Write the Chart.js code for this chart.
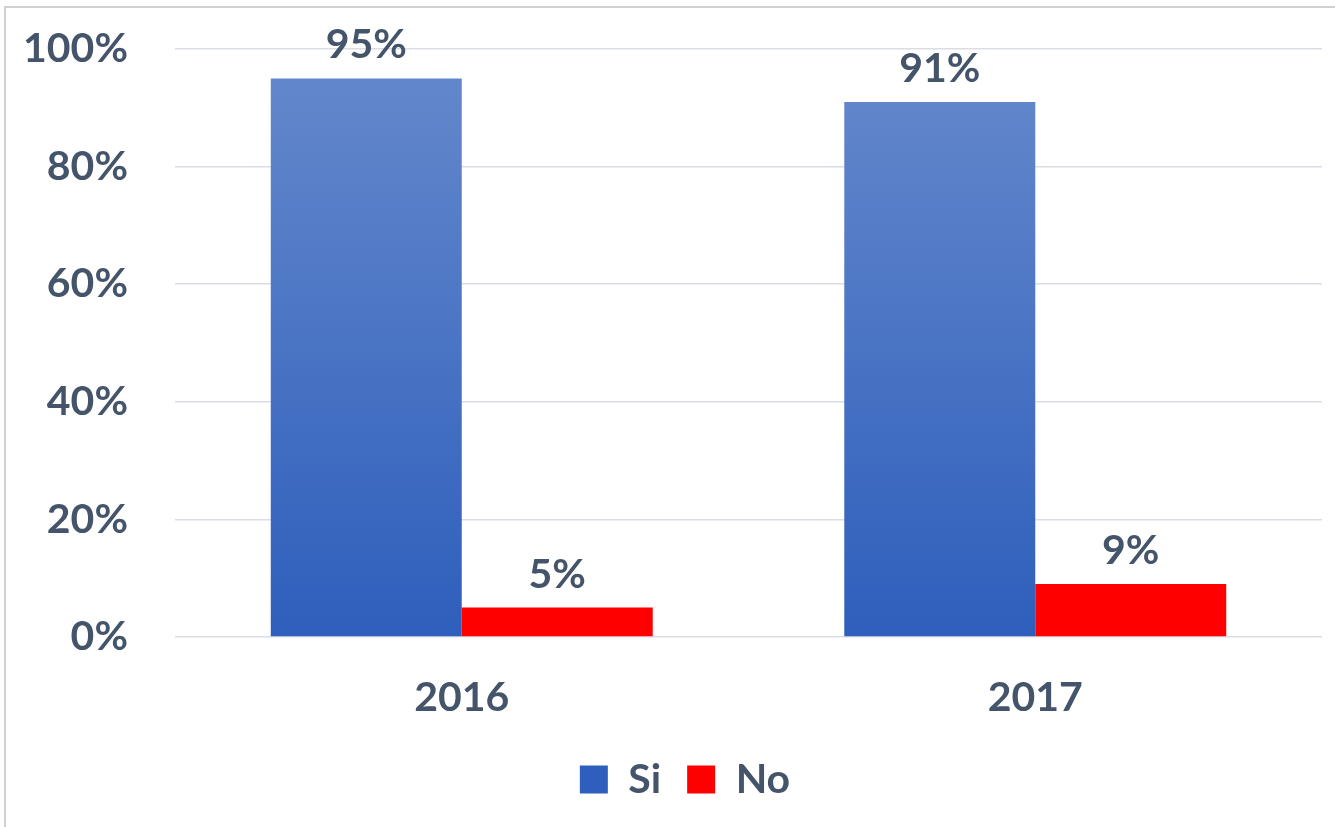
<!DOCTYPE html>
<html>
<head>
<meta charset="utf-8">
<script src="https://cdn.jsdelivr.net/npm/chart.js@4/dist/chart.umd.min.js"></script>
<style>
  html, body { margin: 0; padding: 0; background: #ffffff; overflow: hidden; }
  #frame { position: absolute; left: 4px; top: 6px; width: 1400px; height: 900px; border: 2px solid #d0d0d0; box-sizing: border-box; }
  #wrap { position: absolute; left: 0; top: 0; width: 1335px; height: 827px; }
</style>
</head>
<body>
<div id="frame"></div>
<div id="wrap"><canvas id="c" width="1335" height="827"></canvas></div>
<script>
const categories = ["2016", "2017"];
const seriesNames = ["Si", "No"];
const siValues = [95, 91];
const noValues = [5, 9];
const yTicks = [0, 20, 40, 60, 80, 100];

const textColor = "#44546a";
const fontFamily = "Lato, 'Open Sans', sans-serif";
const fontSize = 41;

function blueGradient(ctx, top, bottom) {
  const g = ctx.createLinearGradient(0, top, 0, bottom);
  g.addColorStop(0, "#6689cc");
  g.addColorStop(1, "#2e5fbc");
  return g;
}

const valueLabels = {
  id: "valueLabels",
  afterDatasetsDraw(chart) {
    const ctx = chart.ctx;
    ctx.save();
    ctx.fillStyle = textColor;
    ctx.font = "bold " + fontSize + "px " + fontFamily;
    ctx.textAlign = "center";
    ctx.textBaseline = "alphabetic";
    chart.data.datasets.forEach((ds, di) => {
      const meta = chart.getDatasetMeta(di);
      meta.data.forEach((bar, i) => {
        ctx.fillText(ds.data[i] + "%", bar.x, bar.y - 20);
      });
    });
    ctx.restore();
  }
};

const legendTweak = {
  id: "legendTweak",
  afterLayout(chart) {
    const lg = chart.legend;
    if (!lg || !lg.legendItems || !lg.legendItems.length) return;
    lg.left = 48;
    lg.width = lg.right - lg.left;
    const mid = (lg.top + lg.bottom) / 2;
    lg.legendItems[0].fillStyle = blueGradient(chart.ctx, mid - 14, mid + 14);
  }
};

const chart = new Chart(document.getElementById("c"), {
  type: "bar",
  data: {
    labels: categories,
    datasets: [
      {
        label: seriesNames[0],
        data: siValues,
        backgroundColor: (context) => {
          const ca = context.chart.chartArea;
          if (!ca) return "#4a74c8";
          return blueGradient(context.chart.ctx, ca.top, ca.bottom);
        },
        borderWidth: 0
      },
      {
        label: seriesNames[1],
        data: noValues,
        backgroundColor: "#ff0000",
        borderWidth: 0
      }
    ]
  },
  options: {
    responsive: false,
    animation: false,
    devicePixelRatio: 1,
    layout: { padding: { left: 0, right: 13, top: 49, bottom: 17 } },
    datasets: { bar: { categoryPercentage: 0.666, barPercentage: 1.0 } },
    scales: {
      x: {
        grid: { display: false, drawTicks: false },
        border: { display: false },
        ticks: {
          color: textColor,
          padding: 36,
          font: { family: fontFamily, size: fontSize, weight: "bold" }
        },
        afterFit(scale) { scale.height = 96; scale.paddingLeft = 0; scale.paddingRight = 0; }
      },
      y: {
        min: 0,
        max: 100,
        afterBuildTicks(scale) { scale.ticks = yTicks.map(v => ({ value: v })); },
        grid: { color: "#d9dee6", lineWidth: 1.5, drawTicks: false },
        border: { display: false },
        ticks: {
          color: textColor,
          padding: 47,
          font: { family: fontFamily, size: fontSize, weight: "bold" },
          callback: (v) => v + "%"
        },
        afterFit(scale) { scale.width = 175; scale.paddingTop = 0; scale.paddingBottom = 0; }
      }
    },
    plugins: {
      tooltip: { enabled: false },
      legend: {
        position: "bottom",
        labels: {
          color: textColor,
          boxWidth: 28,
          boxHeight: 28,
          padding: 26,
          font: { family: fontFamily, size: fontSize, weight: "bold" }
        }
      }
    }
  },
  plugins: [valueLabels, legendTweak]
});
</script>
</body>
</html>
